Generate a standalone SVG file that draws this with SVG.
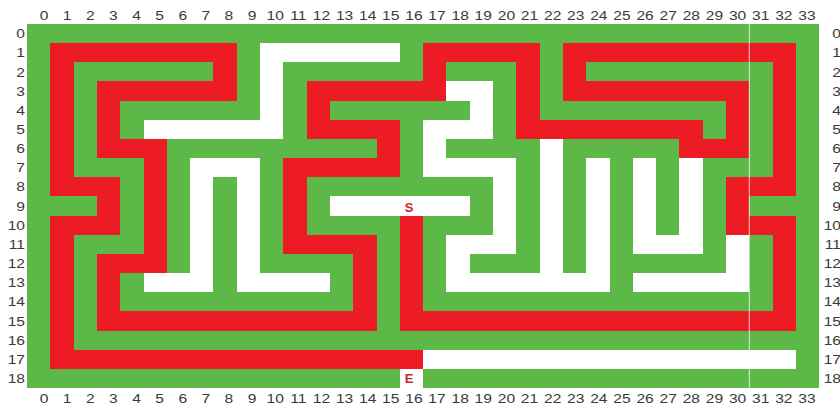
<svg xmlns="http://www.w3.org/2000/svg" width="840" height="409" viewBox="0 0 840 409">
<style>
.wall{fill:#5cb947}
.path rect{fill:#ed1c24}
.open rect{fill:#ffffff}
.lbl{font-family:"Liberation Sans",Arial,sans-serif;font-size:13px;fill:#3a3a3a}
.mid{text-anchor:middle}
.end{text-anchor:end}
.mark{font-family:"Liberation Sans",Arial,sans-serif;font-size:13px;font-weight:bold;fill:#c0282d;text-anchor:middle}
</style>
<rect width="840" height="409" fill="#ffffff"/>
<g id="maze" transform="translate(27 24) scale(23.3 19.158)" shape-rendering="crispEdges">
  <rect id="walls" class="wall" x="0" y="0" width="34" height="19"/>
  <g id="open-cells" class="open">
    <rect x="10" y="1" width="6" height="1"/>
    <rect x="10" y="1" width="1" height="5"/>
    <rect x="5" y="5" width="6" height="1"/>
    <rect x="7" y="7" width="3" height="1"/>
    <rect x="7" y="7" width="1" height="7"/>
    <rect x="9" y="7" width="1" height="7"/>
    <rect x="5" y="13" width="3" height="1"/>
    <rect x="9" y="13" width="4" height="1"/>
    <rect x="13" y="9" width="6" height="1"/>
    <rect x="18" y="3" width="2" height="1"/>
    <rect x="19" y="3" width="1" height="3"/>
    <rect x="17" y="5" width="3" height="1"/>
    <rect x="17" y="5" width="1" height="3"/>
    <rect x="17" y="7" width="4" height="1"/>
    <rect x="20" y="7" width="1" height="5"/>
    <rect x="18" y="11" width="3" height="1"/>
    <rect x="18" y="11" width="1" height="3"/>
    <rect x="18" y="13" width="7" height="1"/>
    <rect x="22" y="6" width="1" height="8"/>
    <rect x="24" y="7" width="1" height="7"/>
    <rect x="26" y="7" width="1" height="5"/>
    <rect x="28" y="7" width="1" height="5"/>
    <rect x="26" y="11" width="3" height="1"/>
    <rect x="26" y="13" width="5" height="1"/>
    <rect x="30" y="11" width="1" height="3"/>
    <rect x="17" y="17" width="16" height="1"/>
    <rect x="16" y="18" width="1" height="1"/>
  </g>
  <g id="solution-path" class="path">
    <rect x="16" y="10" width="1" height="6"/>
    <rect x="16" y="15" width="17" height="1"/>
    <rect x="32" y="10" width="1" height="6"/>
    <rect x="30" y="10" width="3" height="1"/>
    <rect x="30" y="8" width="1" height="3"/>
    <rect x="30" y="8" width="3" height="1"/>
    <rect x="32" y="1" width="1" height="8"/>
    <rect x="23" y="1" width="10" height="1"/>
    <rect x="23" y="1" width="1" height="3"/>
    <rect x="23" y="3" width="8" height="1"/>
    <rect x="30" y="3" width="1" height="4"/>
    <rect x="28" y="6" width="3" height="1"/>
    <rect x="28" y="5" width="1" height="2"/>
    <rect x="21" y="5" width="8" height="1"/>
    <rect x="21" y="1" width="1" height="5"/>
    <rect x="17" y="1" width="5" height="1"/>
    <rect x="17" y="1" width="1" height="3"/>
    <rect x="12" y="3" width="6" height="1"/>
    <rect x="12" y="3" width="1" height="3"/>
    <rect x="12" y="5" width="4" height="1"/>
    <rect x="15" y="5" width="1" height="3"/>
    <rect x="11" y="7" width="5" height="1"/>
    <rect x="11" y="7" width="1" height="5"/>
    <rect x="11" y="11" width="4" height="1"/>
    <rect x="14" y="11" width="1" height="5"/>
    <rect x="3" y="15" width="12" height="1"/>
    <rect x="3" y="12" width="1" height="4"/>
    <rect x="3" y="12" width="3" height="1"/>
    <rect x="5" y="6" width="1" height="7"/>
    <rect x="3" y="6" width="3" height="1"/>
    <rect x="3" y="3" width="1" height="4"/>
    <rect x="3" y="3" width="6" height="1"/>
    <rect x="8" y="1" width="1" height="3"/>
    <rect x="1" y="1" width="8" height="1"/>
    <rect x="1" y="1" width="1" height="8"/>
    <rect x="1" y="8" width="3" height="1"/>
    <rect x="3" y="8" width="1" height="3"/>
    <rect x="1" y="10" width="3" height="1"/>
    <rect x="1" y="10" width="1" height="8"/>
    <rect x="1" y="17" width="16" height="1"/>
  </g>
</g>
<line id="seam" x1="749.3" y1="24" x2="749.3" y2="388" stroke="#ffffff" stroke-opacity="0.75" stroke-width="1"/>
<g id="start"><text class="mark" x="409" y="212">S</text></g>
<g id="end"><text class="mark" x="409" y="383">E</text></g>
<g id="col-labels-top" class="lbl mid" transform="scale(1.2 1)">
<text x="36.67" y="20">0</text><text x="55.93" y="20">1</text><text x="75.2" y="20">2</text><text x="94.47" y="20">3</text><text x="113.73" y="20">4</text><text x="133" y="20">5</text><text x="152.27" y="20">6</text><text x="171.53" y="20">7</text><text x="190.8" y="20">8</text><text x="210.07" y="20">9</text><text x="229.33" y="20">10</text><text x="248.6" y="20">11</text><text x="267.87" y="20">12</text><text x="287.13" y="20">13</text><text x="306.4" y="20">14</text><text x="325.67" y="20">15</text><text x="344.93" y="20">16</text><text x="364.2" y="20">17</text><text x="383.47" y="20">18</text><text x="402.73" y="20">19</text><text x="422" y="20">20</text><text x="441.27" y="20">21</text><text x="460.53" y="20">22</text><text x="479.8" y="20">23</text><text x="499.07" y="20">24</text><text x="518.33" y="20">25</text><text x="537.6" y="20">26</text><text x="556.87" y="20">27</text><text x="576.13" y="20">28</text><text x="595.4" y="20">29</text><text x="614.67" y="20">30</text><text x="633.93" y="20">31</text><text x="653.2" y="20">32</text><text x="672.47" y="20">33</text>
</g>
<g id="col-labels-bottom" class="lbl mid" transform="scale(1.2 1)">
<text x="36.67" y="403">0</text><text x="55.93" y="403">1</text><text x="75.2" y="403">2</text><text x="94.47" y="403">3</text><text x="113.73" y="403">4</text><text x="133" y="403">5</text><text x="152.27" y="403">6</text><text x="171.53" y="403">7</text><text x="190.8" y="403">8</text><text x="210.07" y="403">9</text><text x="229.33" y="403">10</text><text x="248.6" y="403">11</text><text x="267.87" y="403">12</text><text x="287.13" y="403">13</text><text x="306.4" y="403">14</text><text x="325.67" y="403">15</text><text x="344.93" y="403">16</text><text x="364.2" y="403">17</text><text x="383.47" y="403">18</text><text x="402.73" y="403">19</text><text x="422" y="403">20</text><text x="441.27" y="403">21</text><text x="460.53" y="403">22</text><text x="479.8" y="403">23</text><text x="499.07" y="403">24</text><text x="518.33" y="403">25</text><text x="537.6" y="403">26</text><text x="556.87" y="403">27</text><text x="576.13" y="403">28</text><text x="595.4" y="403">29</text><text x="614.67" y="403">30</text><text x="633.93" y="403">31</text><text x="653.2" y="403">32</text><text x="672.47" y="403">33</text>
</g>
<g id="row-labels-left" class="lbl end" transform="scale(1.2 1)">
<text x="20.83" y="38.2">0</text><text x="20.83" y="57.36">1</text><text x="20.83" y="76.52">2</text><text x="20.83" y="95.68">3</text><text x="20.83" y="114.84">4</text><text x="20.83" y="134">5</text><text x="20.83" y="153.16">6</text><text x="20.83" y="172.32">7</text><text x="20.83" y="191.48">8</text><text x="20.83" y="210.64">9</text><text x="20.83" y="229.8">10</text><text x="20.83" y="248.96">11</text><text x="20.83" y="268.12">12</text><text x="20.83" y="287.28">13</text><text x="20.83" y="306.44">14</text><text x="20.83" y="325.6">15</text><text x="20.83" y="344.76">16</text><text x="20.83" y="363.92">17</text><text x="20.83" y="383.08">18</text>
</g>
<g id="row-labels-right" class="lbl end" transform="scale(1.2 1)">
<text x="700.83" y="38.2">0</text><text x="700.83" y="57.36">1</text><text x="700.83" y="76.52">2</text><text x="700.83" y="95.68">3</text><text x="700.83" y="114.84">4</text><text x="700.83" y="134">5</text><text x="700.83" y="153.16">6</text><text x="700.83" y="172.32">7</text><text x="700.83" y="191.48">8</text><text x="700.83" y="210.64">9</text><text x="700.83" y="229.8">10</text><text x="700.83" y="248.96">11</text><text x="700.83" y="268.12">12</text><text x="700.83" y="287.28">13</text><text x="700.83" y="306.44">14</text><text x="700.83" y="325.6">15</text><text x="700.83" y="344.76">16</text><text x="700.83" y="363.92">17</text><text x="700.83" y="383.08">18</text>
</g>
</svg>
